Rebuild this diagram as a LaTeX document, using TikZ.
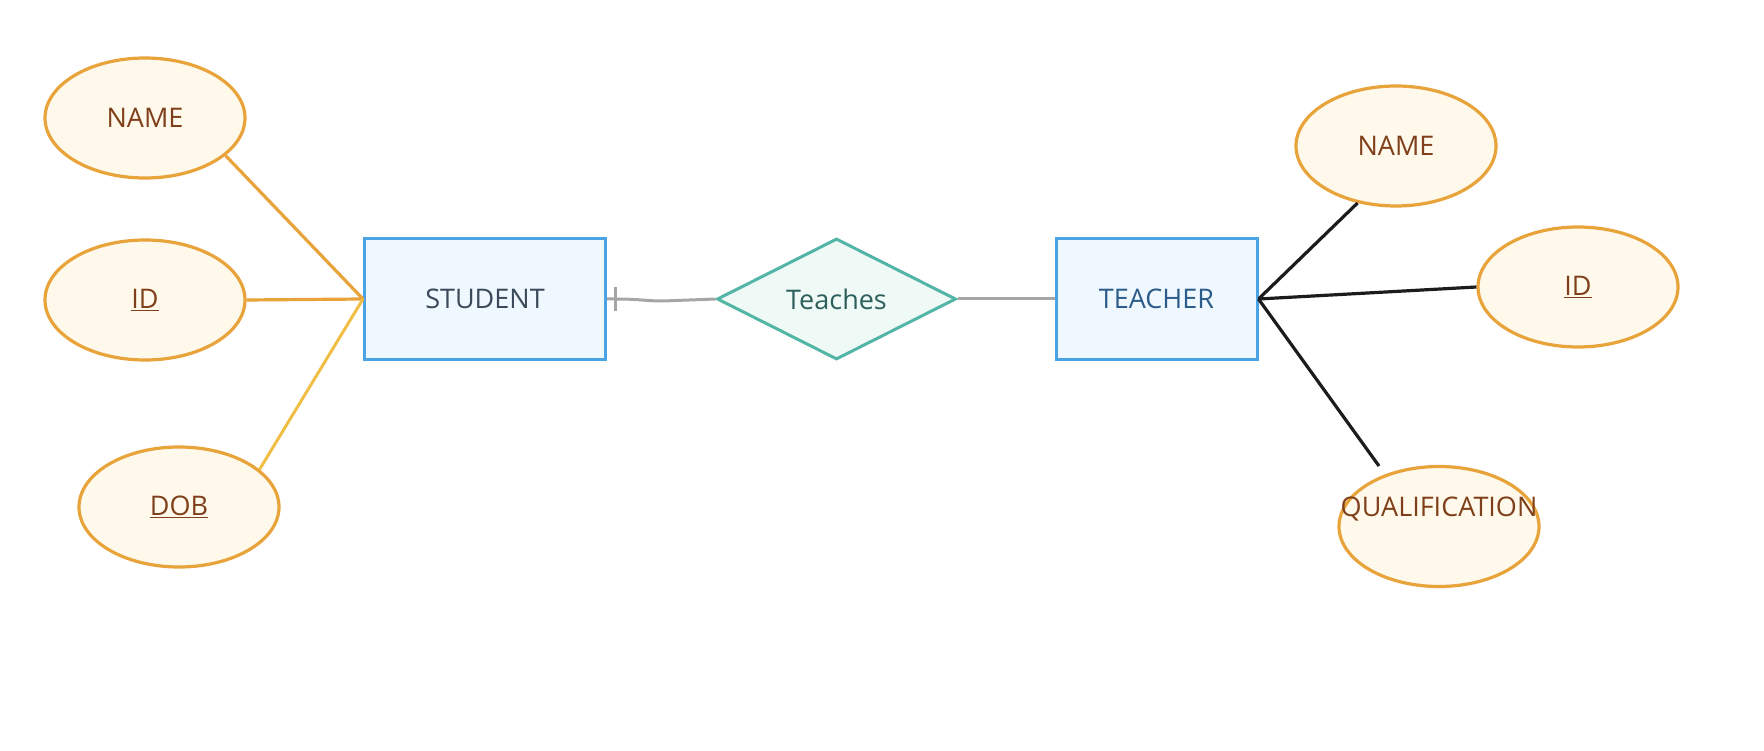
\documentclass[tikz,border=0pt]{standalone}
\usepackage{fontspec}
\setmainfont{Open Sans}
\usetikzlibrary{shapes.geometric}
\definecolor{attrfill}{HTML}{FEF9EB}
\definecolor{attrdraw}{HTML}{E8A33A}
\definecolor{attrtxt}{HTML}{7F3F1A}
\definecolor{entfill}{HTML}{EFF7FF}
\definecolor{entdraw}{HTML}{4BA3E3}
\definecolor{stutxt}{HTML}{3A4A5A}
\definecolor{teatxt}{HTML}{2B5C8A}
\definecolor{reldraw}{HTML}{52B5A5}
\definecolor{relfill}{HTML}{EFFAF6}
\definecolor{reltxt}{HTML}{2D5F5D}
\definecolor{graylink}{HTML}{A6A6A6}
\definecolor{orlink}{HTML}{E8A33A}
\definecolor{yelink}{HTML}{F0BE45}
\definecolor{blklink}{HTML}{1C1C1C}
\tikzset{
  attr/.style={ellipse, draw=attrdraw, fill=attrfill, line width=3.2pt,
    minimum width=200pt, minimum height=120pt, inner sep=0pt,
    text=attrtxt, font=\fontsize{27}{32}\selectfont},
  attrtext/.style={text=attrtxt, font=\fontsize{27}{32}\selectfont, inner sep=0pt},
  entity/.style={rectangle, draw=entdraw, fill=entfill, line width=3pt,
    minimum height=121pt, inner sep=0pt, font=\fontsize{27}{32}\selectfont},
  rel/.style={diamond, draw=reldraw, fill=relfill, line width=3pt,
    minimum width=239pt, minimum height=121pt, inner sep=0pt, aspect=2,
    text=reltxt, font=\fontsize{27}{32}\selectfont},
  olink/.style={draw=orlink, line width=3.2pt},
  ylink/.style={draw=yelink, line width=3pt},
  glink/.style={draw=graylink, line width=3pt},
  blink/.style={draw=blklink, line width=3.2pt},
}
\begin{document}
\begin{tikzpicture}[x=1pt,y=-1pt]
\useasboundingbox (0,0) rectangle (1764,751);
% nodes
\node[attr] (nameL) at (145,118) {NAME};
\node[attr] (idL) at (145,300) {\underline{ID}};
\node[attr] (dobL) at (179,507) {\underline{DOB}};
\node[entity, minimum width=241pt, text=stutxt] (student) at (485,299) {STUDENT};
\node[rel] (teaches) at (836.5,299) {Teaches};
\node[entity, minimum width=201pt, text=teatxt] (teacher) at (1156.5,299) {TEACHER};
\node[attr] (nameR) at (1396,146) {NAME};
\node[attr] (idR) at (1578,287) {\underline{ID}};
\node[attr] (qual) at (1439,526.5) {};
\node[attrtext] (qualtxt) at (1439,509.5) {QUALIFICATION};
\coordinate (qend) at (1379,466);
\coordinate (tick) at (615,299);
\coordinate (wig) at (663,301);
% links
\draw[olink] (nameL.-25) -- (student.west);
\draw[olink] (idL.east) -- (student.west);
\draw[ylink] (dobL.25) -- (student.west);
\draw[glink] (student.east) -- (tick) .. controls (640,299) and (645,301) .. (wig) -- (teaches.west);
\draw[glink] ([yshift=12pt]tick) -- ([yshift=-12pt]tick);
\draw[glink] (teaches.east) -- (teacher.west);
\draw[blink] (teacher.east) -- (nameR.-124);
\draw[blink] (teacher.east) -- (idR.west);
\draw[blink] (teacher.east) -- (qend);
\end{tikzpicture}
\end{document}
